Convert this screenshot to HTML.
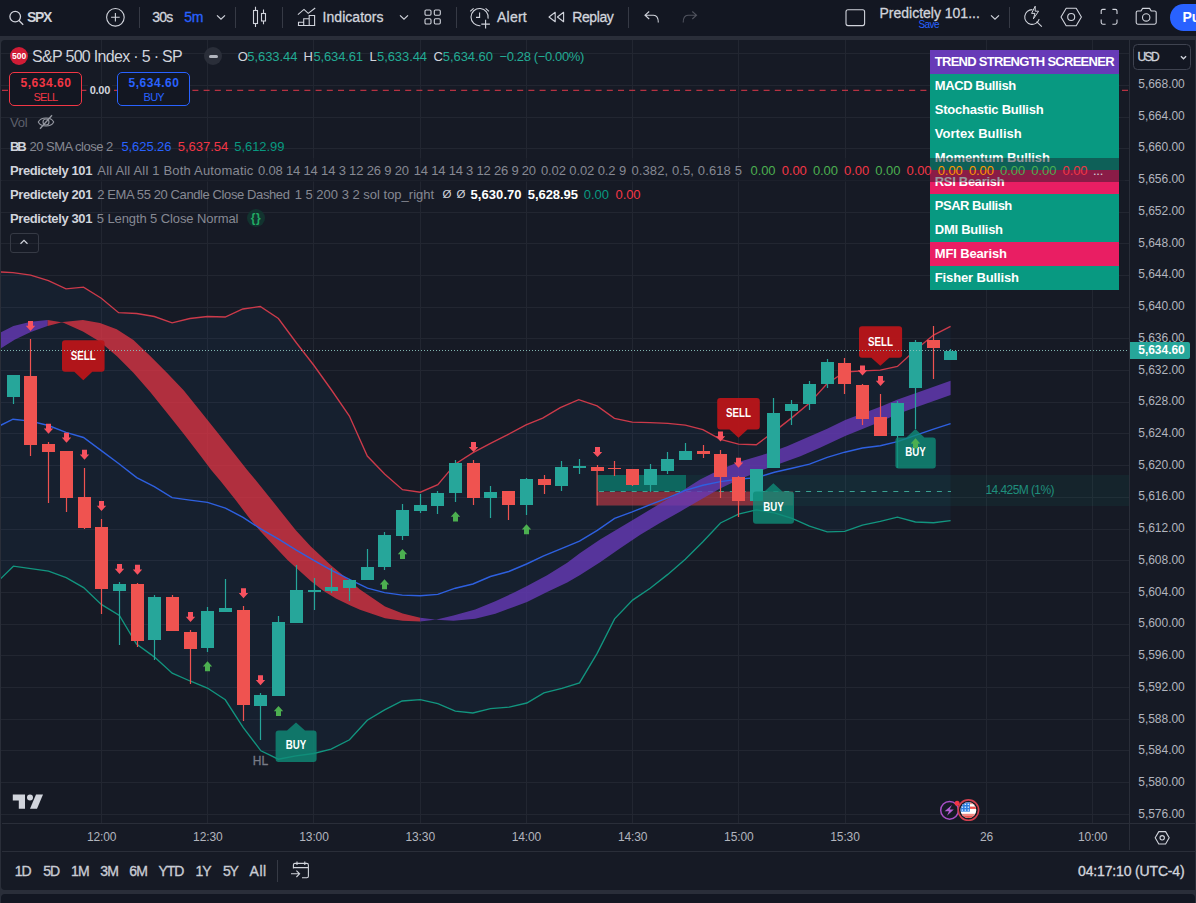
<!DOCTYPE html><html><head><meta charset="utf-8"><title>SPX chart</title><style>

html,body{margin:0;padding:0;}
body{width:1196px;height:903px;overflow:hidden;background:#131722;position:relative;font-family:"Liberation Sans",sans-serif;}
.t{position:absolute;white-space:nowrap;display:block;}
.abs{position:absolute;}

</style></head><body>
<div class="abs" style="left:0;top:35.5px;width:1196px;height:4.5px;background:#2a2e39"></div>
<div class="abs" style="left:0;top:36px;width:6px;height:856px;background:#2a2e39"></div>
<div class="abs" style="left:1.2px;top:40px;width:1196px;height:849.5px;background:#161a25;border-radius:4px 0 0 4px"></div>
<svg class="chart" width="1196" height="903" viewBox="0 0 1196 903" style="position:absolute;left:0;top:0">
<defs><clipPath id="cp"><rect x="1" y="40" width="1129" height="783"/></clipPath></defs>
<g clip-path="url(#cp)">
<rect x="101" y="40" width="1" height="783" fill="#222631"/>
<rect x="207" y="40" width="1" height="783" fill="#222631"/>
<rect x="313" y="40" width="1" height="783" fill="#222631"/>
<rect x="420" y="40" width="1" height="783" fill="#222631"/>
<rect x="526" y="40" width="1" height="783" fill="#222631"/>
<rect x="632" y="40" width="1" height="783" fill="#222631"/>
<rect x="738" y="40" width="1" height="783" fill="#222631"/>
<rect x="845" y="40" width="1" height="783" fill="#222631"/>
<rect x="986" y="40" width="1" height="783" fill="#222631"/>
<rect x="1092" y="40" width="1" height="783" fill="#222631"/>
<rect x="1" y="53" width="1129" height="1" fill="#222631"/>
<rect x="1" y="85" width="1129" height="1" fill="#222631"/>
<rect x="1" y="117" width="1129" height="1" fill="#222631"/>
<rect x="1" y="148" width="1129" height="1" fill="#222631"/>
<rect x="1" y="180" width="1129" height="1" fill="#222631"/>
<rect x="1" y="212" width="1129" height="1" fill="#222631"/>
<rect x="1" y="243" width="1129" height="1" fill="#222631"/>
<rect x="1" y="275" width="1129" height="1" fill="#222631"/>
<rect x="1" y="307" width="1129" height="1" fill="#222631"/>
<rect x="1" y="338" width="1129" height="1" fill="#222631"/>
<rect x="1" y="370" width="1129" height="1" fill="#222631"/>
<rect x="1" y="402" width="1129" height="1" fill="#222631"/>
<rect x="1" y="433" width="1129" height="1" fill="#222631"/>
<rect x="1" y="465" width="1129" height="1" fill="#222631"/>
<rect x="1" y="497" width="1129" height="1" fill="#222631"/>
<rect x="1" y="529" width="1129" height="1" fill="#222631"/>
<rect x="1" y="560" width="1129" height="1" fill="#222631"/>
<rect x="1" y="592" width="1129" height="1" fill="#222631"/>
<rect x="1" y="624" width="1129" height="1" fill="#222631"/>
<rect x="1" y="655" width="1129" height="1" fill="#222631"/>
<rect x="1" y="687" width="1129" height="1" fill="#222631"/>
<rect x="1" y="719" width="1129" height="1" fill="#222631"/>
<rect x="1" y="750" width="1129" height="1" fill="#222631"/>
<rect x="1" y="782" width="1129" height="1" fill="#222631"/>
<rect x="1" y="814" width="1129" height="1" fill="#222631"/>
<polygon points="0.0,271.9 13.0,272.6 30.6,275.1 48.4,280.6 66.0,288.9 83.5,287.2 101.3,298.2 118.6,312.7 136.7,313.5 154.3,316.5 172.1,322.8 189.9,318.5 207.4,316.5 225.2,317.0 242.8,309.0 260.3,306.5 278.4,318.5 296.5,343.0 313.6,365.0 331.5,390.0 349.4,416.0 367.3,456.0 384.6,474.0 402.5,489.7 420.3,492.2 437.8,484.7 455.4,463.9 473.0,452.6 490.5,443.3 506.8,435.2 526.0,424.8 542.7,418.1 560.3,407.6 578.7,399.7 597.1,405.9 614.4,418.4 632.2,422.1 650.2,422.6 667.8,423.4 685.3,425.1 702.9,429.7 720.5,439.4 738.5,444.2 756.3,444.7 774.4,431.4 792.0,417.6 809.5,403.1 827.0,383.8 844.7,372.0 862.5,370.9 880.3,370.2 897.4,366.4 915.4,350.1 933.5,335.1 950.6,326.3 950.6,520.7 933.5,522.7 915.4,522.0 897.4,517.2 880.3,521.4 862.4,525.1 844.7,531.4 827.2,531.9 809.5,526.2 792.0,518.3 774.4,512.9 756.3,509.9 738.5,514.2 720.5,523.0 702.9,541.8 685.3,559.3 667.8,574.4 650.2,588.2 632.6,600.1 614.6,618.9 597.0,653.6 579.5,682.9 561.9,688.4 543.9,692.9 526.8,703.0 509.2,707.2 490.4,708.7 472.9,713.0 455.3,711.2 437.8,703.7 420.2,699.7 402.1,701.0 384.6,709.8 367.3,720.2 349.5,739.8 331.1,749.2 313.7,753.5 296.0,755.9 278.3,759.2 260.9,750.8 243.1,727.4 225.3,699.8 207.4,688.0 190.0,681.0 172.2,673.2 154.5,657.1 136.5,644.0 119.4,615.4 101.3,604.4 83.6,587.6 66.2,577.6 48.5,571.2 30.8,568.6 13.4,566.2 0.0,579.3" fill="#2196f3" fill-opacity="0.055"/>
<rect x="597" y="475" width="533" height="31" fill="#089981" fill-opacity="0.085"/>
<rect x="597" y="475" width="89" height="16" fill="#089981" fill-opacity="0.55"/>
<rect x="597" y="491.5" width="196" height="14" fill="#f23645" fill-opacity="0.50"/>
<line x1="599" y1="491.5" x2="951" y2="491.5" stroke="#3dae9c" stroke-width="1" stroke-dasharray="5,5.9" stroke-opacity="0.9"/>
<rect x="596.5" y="470" width="1.2" height="35.5" fill="#ef5350"/>
<polygon points="0.0,332.8 13.4,326.1 30.8,321.7 47.5,320.1 47.7,320.1 47.7,326.0 47.5,326.1 30.8,332.1 15.0,339.5 0.0,349.0" fill="#673ab7" fill-opacity="0.8"/>
<polygon points="47.7,320.1 62.9,322.6 82.9,331.4 100.0,341.7 116.7,356.0 133.4,372.7 150.2,391.9 166.9,412.8 183.6,433.7 200.3,455.5 211.2,470.0 220.5,481.0 235.6,500.1 250.8,520.0 260.6,531.4 287.5,560.0 310.8,581.0 323.6,591.0 335.9,598.5 350.4,605.5 360.0,609.8 385.0,618.2 402.6,620.7 420.2,621.5 420.2,617.7 402.7,613.5 385.0,606.4 360.0,589.5 330.9,565.3 310.8,546.5 295.8,530.2 275.7,505.1 255.6,480.0 247.2,470.0 233.8,453.0 217.1,432.0 200.3,411.1 183.6,390.2 166.9,372.7 150.2,356.0 133.4,340.1 116.7,329.2 100.0,323.0 82.9,320.1 62.9,322.1 47.7,326.0" fill="#f23645" fill-opacity="0.7"/>
<polygon points="420.2,621.5 436.7,619.5 453.4,615.4 475.2,609.5 495.3,601.2 513.6,592.8 527.0,586.1 547.1,575.3 567.2,562.7 580.1,552.9 600.1,539.5 620.2,527.5 640.3,515.5 660.3,503.4 680.4,492.0 700.1,479.5 720.1,469.6 740.2,461.5 767.0,453.5 787.0,446.2 807.1,437.5 827.2,428.8 845.2,420.1 880.3,406.8 897.0,399.7 915.4,393.2 950.6,380.8 950.6,395.0 915.4,407.6 897.0,414.3 880.3,421.8 845.2,436.0 820.5,447.5 800.4,456.2 780.3,463.5 760.3,470.9 740.2,478.9 720.1,488.6 700.1,499.9 680.4,511.4 660.3,522.8 640.3,534.8 620.2,548.2 600.1,562.3 580.1,575.0 567.2,582.4 547.1,592.0 527.0,602.0 513.6,607.0 495.3,613.7 475.2,618.7 453.4,620.7 436.7,619.8 420.2,617.7" fill="#673ab7" fill-opacity="0.8"/>
<polyline points="0.0,271.9 13.0,272.6 30.6,275.1 48.4,280.6 66.0,288.9 83.5,287.2 101.3,298.2 118.6,312.7 136.7,313.5 154.3,316.5 172.1,322.8 189.9,318.5 207.4,316.5 225.2,317.0 242.8,309.0 260.3,306.5 278.4,318.5 296.5,343.0 313.6,365.0 331.5,390.0 349.4,416.0 367.3,456.0 384.6,474.0 402.5,489.7 420.3,492.2 437.8,484.7 455.4,463.9 473.0,452.6 490.5,443.3 506.8,435.2 526.0,424.8 542.7,418.1 560.3,407.6 578.7,399.7 597.1,405.9 614.4,418.4 632.2,422.1 650.2,422.6 667.8,423.4 685.3,425.1 702.9,429.7 720.5,439.4 738.5,444.2 756.3,444.7 774.4,431.4 792.0,417.6 809.5,403.1 827.0,383.8 844.7,372.0 862.5,370.9 880.3,370.2 897.4,366.4 915.4,350.1 933.5,335.1 950.6,326.3" fill="none" stroke="#cc3a4a" stroke-width="1.35"/>
<polyline points="0.0,579.3 13.4,566.2 30.8,568.6 48.5,571.2 66.2,577.6 83.6,587.6 101.3,604.4 119.4,615.4 136.5,644.0 154.5,657.1 172.2,673.2 190.0,681.0 207.4,688.0 225.3,699.8 243.1,727.4 260.9,750.8 278.3,759.2 296.0,755.9 313.7,753.5 331.1,749.2 349.5,739.8 367.3,720.2 384.6,709.8 402.1,701.0 420.2,699.7 437.8,703.7 455.3,711.2 472.9,713.0 490.4,708.7 509.2,707.2 526.8,703.0 543.9,692.9 561.9,688.4 579.5,682.9 597.0,653.6 614.6,618.9 632.6,600.1 650.2,588.2 667.8,574.4 685.3,559.3 702.9,541.8 720.5,523.0 738.5,514.2 756.3,509.9 774.4,512.9 792.0,518.3 809.5,526.2 827.2,531.9 844.7,531.4 862.4,525.1 880.3,521.4 897.4,517.2 915.4,522.0 933.5,522.7 950.6,520.7" fill="none" stroke="#12957f" stroke-width="1.35"/>
<polyline points="0.0,425.6 13.0,419.2 30.6,421.1 48.4,425.5 66.0,432.4 83.5,437.5 101.3,450.6 118.6,463.5 136.7,477.6 154.3,486.6 172.1,497.6 189.9,500.1 207.5,502.4 225.4,508.1 243.0,517.3 260.7,528.9 278.2,538.9 296.3,550.2 313.8,560.3 331.6,570.3 349.4,579.4 367.5,588.2 384.6,592.6 402.3,595.1 420.2,595.8 437.8,594.4 455.3,588.2 472.9,584.0 490.4,576.5 508.8,571.5 526.6,564.0 543.7,555.9 562.0,548.4 579.5,541.2 597.3,530.4 614.6,518.4 632.2,511.9 650.2,504.7 667.8,497.9 685.3,490.4 702.9,485.3 720.5,481.6 738.5,479.1 756.3,477.8 774.4,472.3 792.0,468.3 809.5,464.1 827.2,457.4 844.7,452.2 862.4,448.0 880.3,445.7 897.4,441.7 915.4,435.4 933.5,429.1 950.6,423.6" fill="none" stroke="#2e60e0" stroke-width="1.4"/>
<line x1="2" y1="90.3" x2="1130" y2="90.3" stroke="#e0394a" stroke-width="1" stroke-dasharray="6,5.2"/>
<rect x="12.9" y="375" width="1.2" height="29" fill="#26a69a"/>
<rect x="7.0" y="375" width="13" height="22" fill="#26a69a"/>
<rect x="29.9" y="339" width="1.2" height="117" fill="#ef5350"/>
<rect x="24.0" y="376" width="13" height="69" fill="#ef5350"/>
<rect x="47.9" y="442" width="1.2" height="61" fill="#ef5350"/>
<rect x="42.0" y="444" width="13" height="8" fill="#ef5350"/>
<rect x="65.9" y="451" width="1.2" height="61" fill="#ef5350"/>
<rect x="60.0" y="451" width="13" height="47" fill="#ef5350"/>
<rect x="83.9" y="468" width="1.2" height="61" fill="#ef5350"/>
<rect x="78.0" y="497" width="13" height="31" fill="#ef5350"/>
<rect x="100.9" y="519" width="1.2" height="95" fill="#ef5350"/>
<rect x="95.0" y="527" width="13" height="62" fill="#ef5350"/>
<rect x="118.9" y="582" width="1.2" height="63" fill="#26a69a"/>
<rect x="113.0" y="584" width="13" height="7" fill="#26a69a"/>
<rect x="136.9" y="583" width="1.2" height="64" fill="#ef5350"/>
<rect x="131.0" y="584" width="13" height="57" fill="#ef5350"/>
<rect x="153.9" y="595" width="1.2" height="65" fill="#26a69a"/>
<rect x="148.0" y="597" width="13" height="43" fill="#26a69a"/>
<rect x="171.9" y="595" width="1.2" height="36" fill="#ef5350"/>
<rect x="166.0" y="597" width="13" height="34" fill="#ef5350"/>
<rect x="189.9" y="630" width="1.2" height="54" fill="#ef5350"/>
<rect x="184.0" y="632" width="13" height="17" fill="#ef5350"/>
<rect x="206.9" y="607" width="1.2" height="45" fill="#26a69a"/>
<rect x="201.0" y="611" width="13" height="37" fill="#26a69a"/>
<rect x="224.9" y="579" width="1.2" height="33" fill="#26a69a"/>
<rect x="219.0" y="608" width="13" height="4" fill="#26a69a"/>
<rect x="242.9" y="606" width="1.2" height="115" fill="#ef5350"/>
<rect x="237.0" y="610" width="13" height="95" fill="#ef5350"/>
<rect x="259.9" y="693" width="1.2" height="47" fill="#26a69a"/>
<rect x="254.0" y="695" width="13" height="11" fill="#26a69a"/>
<rect x="277.9" y="616" width="1.2" height="80" fill="#26a69a"/>
<rect x="272.0" y="622" width="13" height="74" fill="#26a69a"/>
<rect x="295.9" y="565" width="1.2" height="58" fill="#26a69a"/>
<rect x="290.0" y="590" width="13" height="33" fill="#26a69a"/>
<rect x="313.9" y="578" width="1.2" height="32" fill="#26a69a"/>
<rect x="308.0" y="590" width="13" height="2" fill="#26a69a"/>
<rect x="330.9" y="568" width="1.2" height="25" fill="#26a69a"/>
<rect x="325.0" y="587" width="13" height="4" fill="#26a69a"/>
<rect x="348.9" y="579" width="1.2" height="22" fill="#26a69a"/>
<rect x="343.0" y="580" width="13" height="8" fill="#26a69a"/>
<rect x="366.9" y="549" width="1.2" height="31" fill="#26a69a"/>
<rect x="361.0" y="567" width="13" height="13" fill="#26a69a"/>
<rect x="383.9" y="532" width="1.2" height="38" fill="#26a69a"/>
<rect x="378.0" y="535" width="13" height="32" fill="#26a69a"/>
<rect x="401.9" y="504" width="1.2" height="36" fill="#26a69a"/>
<rect x="396.0" y="510" width="13" height="26" fill="#26a69a"/>
<rect x="419.9" y="494" width="1.2" height="19" fill="#26a69a"/>
<rect x="414.0" y="505" width="13" height="6" fill="#26a69a"/>
<rect x="436.9" y="491" width="1.2" height="23" fill="#26a69a"/>
<rect x="431.0" y="493" width="13" height="13" fill="#26a69a"/>
<rect x="454.9" y="460" width="1.2" height="42" fill="#26a69a"/>
<rect x="449.0" y="463" width="13" height="30" fill="#26a69a"/>
<rect x="472.9" y="460" width="1.2" height="45" fill="#ef5350"/>
<rect x="467.0" y="463" width="13" height="35" fill="#ef5350"/>
<rect x="489.9" y="486" width="1.2" height="32" fill="#26a69a"/>
<rect x="484.0" y="492" width="13" height="6" fill="#26a69a"/>
<rect x="507.9" y="491" width="1.2" height="29" fill="#ef5350"/>
<rect x="502.0" y="491" width="13" height="14" fill="#ef5350"/>
<rect x="525.9" y="478" width="1.2" height="37" fill="#26a69a"/>
<rect x="520.0" y="479" width="13" height="26" fill="#26a69a"/>
<rect x="543.9" y="475" width="1.2" height="19" fill="#ef5350"/>
<rect x="538.0" y="479" width="13" height="6" fill="#ef5350"/>
<rect x="560.9" y="461" width="1.2" height="30" fill="#26a69a"/>
<rect x="555.0" y="467" width="13" height="19" fill="#26a69a"/>
<rect x="578.9" y="459" width="1.2" height="15" fill="#26a69a"/>
<rect x="573.0" y="466" width="13" height="2" fill="#26a69a"/>
<rect x="596.9" y="465" width="1.2" height="6" fill="#ef5350"/>
<rect x="591.0" y="467" width="13" height="4" fill="#ef5350"/>
<rect x="613.9" y="461" width="1.2" height="15" fill="#ef5350"/>
<rect x="608.0" y="468" width="13" height="1" fill="#ef5350"/>
<rect x="631.9" y="469" width="1.2" height="17" fill="#ef5350"/>
<rect x="626.0" y="469" width="13" height="16" fill="#ef5350"/>
<rect x="649.9" y="464" width="1.2" height="28" fill="#26a69a"/>
<rect x="644.0" y="469" width="13" height="16" fill="#26a69a"/>
<rect x="666.9" y="452" width="1.2" height="22" fill="#26a69a"/>
<rect x="661.0" y="459" width="13" height="12" fill="#26a69a"/>
<rect x="684.9" y="443" width="1.2" height="17" fill="#26a69a"/>
<rect x="679.0" y="451" width="13" height="9" fill="#26a69a"/>
<rect x="702.9" y="445" width="1.2" height="13" fill="#ef5350"/>
<rect x="697.0" y="451" width="13" height="3" fill="#ef5350"/>
<rect x="719.9" y="450" width="1.2" height="48" fill="#ef5350"/>
<rect x="714.0" y="454" width="13" height="23" fill="#ef5350"/>
<rect x="737.9" y="476" width="1.2" height="41" fill="#ef5350"/>
<rect x="732.0" y="477" width="13" height="24" fill="#ef5350"/>
<rect x="755.9" y="469" width="1.2" height="32" fill="#26a69a"/>
<rect x="750.0" y="469" width="13" height="32" fill="#26a69a"/>
<rect x="772.9" y="398" width="1.2" height="70" fill="#26a69a"/>
<rect x="767.0" y="413" width="13" height="55" fill="#26a69a"/>
<rect x="790.9" y="400" width="1.2" height="25" fill="#26a69a"/>
<rect x="785.0" y="404" width="13" height="7" fill="#26a69a"/>
<rect x="808.9" y="381" width="1.2" height="29" fill="#26a69a"/>
<rect x="803.0" y="384" width="13" height="20" fill="#26a69a"/>
<rect x="826.9" y="359" width="1.2" height="29" fill="#26a69a"/>
<rect x="821.0" y="362" width="13" height="22" fill="#26a69a"/>
<rect x="843.9" y="358" width="1.2" height="36" fill="#ef5350"/>
<rect x="838.0" y="363" width="13" height="21" fill="#ef5350"/>
<rect x="861.9" y="384" width="1.2" height="41" fill="#ef5350"/>
<rect x="856.0" y="385" width="13" height="34" fill="#ef5350"/>
<rect x="879.9" y="394" width="1.2" height="42" fill="#ef5350"/>
<rect x="874.0" y="417" width="13" height="19" fill="#ef5350"/>
<rect x="896.9" y="401" width="1.2" height="67" fill="#26a69a"/>
<rect x="891.0" y="403" width="13" height="33" fill="#26a69a"/>
<rect x="914.9" y="340" width="1.2" height="89" fill="#26a69a"/>
<rect x="909.0" y="342" width="13" height="46" fill="#26a69a"/>
<rect x="932.9" y="326" width="1.2" height="53" fill="#ef5350"/>
<rect x="927.0" y="340" width="13" height="8" fill="#ef5350"/>
<rect x="949.9" y="349" width="1.2" height="11" fill="#26a69a"/>
<rect x="944.0" y="351" width="13" height="9" fill="#26a69a"/>
<path d="M28.0,321.0 h5 v4.8 h2.2 l-4.7,5.2 l-4.7,-5.2 h2.2 z" fill="#f7525f"/>
<path d="M46.0,423.7 h5 v4.8 h2.2 l-4.7,5.2 l-4.7,-5.2 h2.2 z" fill="#f7525f"/>
<path d="M64.0,432.7 h5 v4.8 h2.2 l-4.7,5.2 l-4.7,-5.2 h2.2 z" fill="#f7525f"/>
<path d="M82.0,449.8 h5 v4.8 h2.2 l-4.7,5.2 l-4.7,-5.2 h2.2 z" fill="#f7525f"/>
<path d="M99.0,500.9 h5 v4.8 h2.2 l-4.7,5.2 l-4.7,-5.2 h2.2 z" fill="#f7525f"/>
<path d="M117.0,564.0 h5 v4.8 h2.2 l-4.7,5.2 l-4.7,-5.2 h2.2 z" fill="#f7525f"/>
<path d="M135.0,564.8 h5 v4.8 h2.2 l-4.7,5.2 l-4.7,-5.2 h2.2 z" fill="#f7525f"/>
<path d="M188.0,612.0 h5 v4.8 h2.2 l-4.7,5.2 l-4.7,-5.2 h2.2 z" fill="#f7525f"/>
<path d="M241.0,588.2 h5 v4.8 h2.2 l-4.7,5.2 l-4.7,-5.2 h2.2 z" fill="#f7525f"/>
<path d="M258.0,675.3 h5 v4.8 h2.2 l-4.7,5.2 l-4.7,-5.2 h2.2 z" fill="#f7525f"/>
<path d="M471.0,442.1 h5 v4.8 h2.2 l-4.7,5.2 l-4.7,-5.2 h2.2 z" fill="#f7525f"/>
<path d="M595.0,447.1 h5 v4.8 h2.2 l-4.7,5.2 l-4.7,-5.2 h2.2 z" fill="#f7525f"/>
<path d="M718.0,431.5 h5 v4.8 h2.2 l-4.7,5.2 l-4.7,-5.2 h2.2 z" fill="#f7525f"/>
<path d="M736.0,457.8 h5 v4.8 h2.2 l-4.7,5.2 l-4.7,-5.2 h2.2 z" fill="#f7525f"/>
<path d="M860.0,365.5 h5 v4.8 h2.2 l-4.7,5.2 l-4.7,-5.2 h2.2 z" fill="#f7525f"/>
<path d="M878.0,376.0 h5 v4.8 h2.2 l-4.7,5.2 l-4.7,-5.2 h2.2 z" fill="#f7525f"/>
<path d="M207.5,661.3 l4.7,5.2 h-2.2 v4.8 h-5 v-4.8 h-2.2 z" fill="#4caf50"/>
<path d="M278.5,706.0 l4.7,5.2 h-2.2 v4.8 h-5 v-4.8 h-2.2 z" fill="#4caf50"/>
<path d="M384.5,579.2 l4.7,5.2 h-2.2 v4.8 h-5 v-4.8 h-2.2 z" fill="#4caf50"/>
<path d="M402.5,549.1 l4.7,5.2 h-2.2 v4.8 h-5 v-4.8 h-2.2 z" fill="#4caf50"/>
<path d="M455.5,511.5 l4.7,5.2 h-2.2 v4.8 h-5 v-4.8 h-2.2 z" fill="#4caf50"/>
<path d="M526.5,524.3 l4.7,5.2 h-2.2 v4.8 h-5 v-4.8 h-2.2 z" fill="#4caf50"/>
<path d="M915.5,438.6 l4.7,5.2 h-2.2 v4.8 h-5 v-4.8 h-2.2 z" fill="#4caf50"/>
<path d="M65.0,340.3 H101.6 Q104.6,340.3 104.6,343.3 V368.7 Q104.6,371.7 101.6,371.7 H92.3 L83.3,380.3 L74.3,371.7 H65.0 Q62.0,371.7 62.0,368.7 V343.3 Q62.0,340.3 65.0,340.3 Z" fill="#b91519" fill-opacity="0.95"/>
<text x="83.3" y="359.5" text-anchor="middle" font-family="Liberation Sans, sans-serif" font-size="12" font-weight="bold" fill="#ffffff" textLength="25" lengthAdjust="spacingAndGlyphs">SELL</text>
<path d="M720.2,398.1 H756.8 Q759.8,398.1 759.8,401.1 V426.4 Q759.8,429.4 756.8,429.4 H747.5 L738.5,437.7 L729.5,429.4 H720.2 Q717.2,429.4 717.2,426.4 V401.1 Q717.2,398.1 720.2,398.1 Z" fill="#b91519" fill-opacity="0.95"/>
<text x="738.5" y="417.2" text-anchor="middle" font-family="Liberation Sans, sans-serif" font-size="12" font-weight="bold" fill="#ffffff" textLength="25" lengthAdjust="spacingAndGlyphs">SELL</text>
<path d="M862.0,326.3 H899.1 Q902.1,326.3 902.1,329.3 V354.7 Q902.1,357.7 899.1,357.7 H889.3 L880.3,365.7 L871.3,357.7 H862.0 Q859.0,357.7 859.0,354.7 V329.3 Q859.0,326.3 862.0,326.3 Z" fill="#b91519" fill-opacity="0.95"/>
<text x="880.5" y="345.5" text-anchor="middle" font-family="Liberation Sans, sans-serif" font-size="12" font-weight="bold" fill="#ffffff" textLength="25" lengthAdjust="spacingAndGlyphs">SELL</text>
<path d="M278.6,730.6 H287.0 L296.0,722.5 L305.0,730.6 H313.6 Q316.6,730.6 316.6,733.6 V759.0 Q316.6,762.0 313.6,762.0 H278.6 Q275.6,762.0 275.6,759.0 V733.6 Q275.6,730.6 278.6,730.6 Z" fill="#0f8c78" fill-opacity="0.8"/>
<text x="296.1" y="749.4" text-anchor="middle" font-family="Liberation Sans, sans-serif" font-size="12" font-weight="bold" fill="#ffffff" textLength="20.5" lengthAdjust="spacingAndGlyphs">BUY</text>
<path d="M756.0,491.6 H764.4 L773.4,483.3 L782.4,491.6 H791.0 Q794.0,491.6 794.0,494.6 V520.7 Q794.0,523.7 791.0,523.7 H756.0 Q753.0,523.7 753.0,520.7 V494.6 Q753.0,491.6 756.0,491.6 Z" fill="#0f8c78" fill-opacity="0.8"/>
<text x="773.5" y="510.8" text-anchor="middle" font-family="Liberation Sans, sans-serif" font-size="12" font-weight="bold" fill="#ffffff" textLength="20.5" lengthAdjust="spacingAndGlyphs">BUY</text>
<path d="M898.4,437.4 H906.4 L915.4,429.1 L924.4,437.4 H932.8 Q935.8,437.4 935.8,440.4 V465.5 Q935.8,468.5 932.8,468.5 H898.4 Q895.4,468.5 895.4,465.5 V440.4 Q895.4,437.4 898.4,437.4 Z" fill="#0f8c78" fill-opacity="0.8"/>
<text x="915.6" y="456.1" text-anchor="middle" font-family="Liberation Sans, sans-serif" font-size="12" font-weight="bold" fill="#ffffff" textLength="20.5" lengthAdjust="spacingAndGlyphs">BUY</text>
<path d="M915.5,438.2 l4.7,5.2 h-2.2 v4.8 h-5 v-4.8 h-2.2 z" fill="#4caf50"/>
<text x="260.4" y="765.2" text-anchor="middle" font-family="Liberation Sans, sans-serif" font-size="12" fill="#787b86" stroke="#787b86" stroke-width="0.3">HL</text>
<text x="1020" y="494.3" text-anchor="middle" font-family="Liberation Sans, sans-serif" font-size="12" fill="#1f8f7c" textLength="69">14.425M (1%)</text>
<line x1="1" y1="350.5" x2="1128" y2="350.5" stroke="#8cc6c0" stroke-width="1" stroke-dasharray="1,2" stroke-opacity="0.9"/>
</g>
</svg>
<div class="abs" style="left:930px;top:49.8px;width:188.7px;height:24.2px;background:#673ab7"></div>
<span class="t" style="left:934.8px;top:53.0px;height:17px;line-height:17px;font-size:13px;color:#ffffff;font-weight:bold;letter-spacing:-0.727px;">TREND STRENGTH SCREENER</span>
<div class="abs" style="left:930px;top:73.7px;width:188.7px;height:24.3px;background:#089981"></div>
<span class="t" style="left:934.8px;top:76.9px;height:17px;line-height:17px;font-size:13px;color:#ffffff;font-weight:bold;letter-spacing:-0.412px;">MACD Bullish</span>
<div class="abs" style="left:930px;top:97.7px;width:188.7px;height:24.3px;background:#089981"></div>
<span class="t" style="left:934.8px;top:100.9px;height:17px;line-height:17px;font-size:13px;color:#ffffff;font-weight:bold;letter-spacing:-0.227px;">Stochastic Bullish</span>
<div class="abs" style="left:930px;top:121.7px;width:188.7px;height:24.3px;background:#089981"></div>
<span class="t" style="left:934.8px;top:124.9px;height:17px;line-height:17px;font-size:13px;color:#ffffff;font-weight:bold;letter-spacing:0.040px;">Vortex Bullish</span>
<div class="abs" style="left:930px;top:145.7px;width:188.7px;height:24.3px;background:#089981"></div>
<span class="t" style="left:934.8px;top:148.9px;height:17px;line-height:17px;font-size:13px;color:#ffffff;font-weight:bold;letter-spacing:-0.080px;">Momentum Bullish</span>
<div class="abs" style="left:930px;top:169.7px;width:188.7px;height:24.3px;background:#e91e63"></div>
<span class="t" style="left:934.8px;top:172.9px;height:17px;line-height:17px;font-size:13px;color:#ffffff;font-weight:bold;letter-spacing:-0.316px;">RSI Bearish</span>
<div class="abs" style="left:930px;top:193.7px;width:188.7px;height:24.3px;background:#089981"></div>
<span class="t" style="left:934.8px;top:196.9px;height:17px;line-height:17px;font-size:13px;color:#ffffff;font-weight:bold;letter-spacing:-0.505px;">PSAR Bullish</span>
<div class="abs" style="left:930px;top:217.7px;width:188.7px;height:24.3px;background:#089981"></div>
<span class="t" style="left:934.8px;top:220.9px;height:17px;line-height:17px;font-size:13px;color:#ffffff;font-weight:bold;letter-spacing:-0.253px;">DMI Bullish</span>
<div class="abs" style="left:930px;top:241.7px;width:188.7px;height:24.3px;background:#e91e63"></div>
<span class="t" style="left:934.8px;top:244.9px;height:17px;line-height:17px;font-size:13px;color:#ffffff;font-weight:bold;letter-spacing:-0.153px;">MFI Bearish</span>
<div class="abs" style="left:930px;top:265.7px;width:188.7px;height:24.3px;background:#089981"></div>
<span class="t" style="left:934.8px;top:268.9px;height:17px;line-height:17px;font-size:13px;color:#ffffff;font-weight:bold;letter-spacing:-0.140px;">Fisher Bullish</span>
<div class="abs" style="left:2px;top:158.4px;width:1123px;height:23.6px;background:rgba(22,26,37,0.45)"></div>
<div class="abs" style="left:10px;top:46.6px;width:18px;height:18px;border-radius:9px;background:#d01c36"></div>
<span class="t" style="left:12.1px;top:50.6px;height:11px;line-height:11px;font-size:8.5px;color:#ffffff;font-weight:bold;letter-spacing:-0.060px;">500</span>
<span class="t" style="left:32.0px;top:46.2px;height:21px;line-height:21px;font-size:16px;color:#d1d4dc;letter-spacing:-0.688px;">S&amp;P 500 Index · 5 · SP</span>
<div class="abs" style="left:204.4px;top:47.4px;width:18px;height:18px;border-radius:9px;background:#2a2e39"></div>
<div class="abs" style="left:209px;top:55px;width:9px;height:3px;border-radius:1.5px;background:#b2b5be"></div>
<span class="t" style="left:237.8px;top:47.9px;height:17px;line-height:17px;font-size:13px;color:#d1d4dc;">O</span>
<span class="t" style="left:247.3px;top:47.9px;height:17px;line-height:17px;font-size:13px;color:#22ab94;letter-spacing:-0.075px;">5,633.44</span>
<span class="t" style="left:303.6px;top:47.9px;height:17px;line-height:17px;font-size:13px;color:#d1d4dc;">H</span>
<span class="t" style="left:313.4px;top:47.9px;height:17px;line-height:17px;font-size:13px;color:#22ab94;letter-spacing:-0.138px;">5,634.61</span>
<span class="t" style="left:369.4px;top:47.9px;height:17px;line-height:17px;font-size:13px;color:#d1d4dc;">L</span>
<span class="t" style="left:377.0px;top:47.9px;height:17px;line-height:17px;font-size:13px;color:#22ab94;letter-spacing:-0.075px;">5,633.44</span>
<span class="t" style="left:433.4px;top:47.9px;height:17px;line-height:17px;font-size:13px;color:#d1d4dc;">C</span>
<span class="t" style="left:442.8px;top:47.9px;height:17px;line-height:17px;font-size:13px;color:#22ab94;letter-spacing:-0.075px;">5,634.60</span>
<span class="t" style="left:499.5px;top:47.9px;height:17px;line-height:17px;font-size:13px;color:#22ab94;letter-spacing:-0.366px;">−0.28 (−0.00%)</span>
<div class="abs" style="left:9.3px;top:72.2px;width:70.7px;height:31.6px;border:1px solid #f23645;border-radius:5px;background:#131722"></div>
<span class="t" style="left:20.5px;top:74.7px;height:16px;line-height:16px;font-size:12px;color:#f23645;font-weight:bold;letter-spacing:0.536px;">5,634.60</span>
<span class="t" style="left:33.5px;top:90.1px;height:14px;line-height:14px;font-size:11px;color:#f23645;letter-spacing:-0.727px;">SELL</span>
<div class="abs" style="left:116.9px;top:72.2px;width:71px;height:31.6px;border:1px solid #2962ff;border-radius:5px;background:#131722"></div>
<span class="t" style="left:128.5px;top:74.7px;height:16px;line-height:16px;font-size:12px;color:#2962ff;font-weight:bold;letter-spacing:0.536px;">5,634.60</span>
<span class="t" style="left:143.5px;top:90.1px;height:14px;line-height:14px;font-size:11px;color:#2962ff;letter-spacing:-0.706px;">BUY</span>
<div class="abs" style="left:87.5px;top:84px;width:24.5px;height:12px;background:#161a25"></div>
<span class="t" style="left:89.8px;top:82.8px;height:14px;line-height:14px;font-size:11px;color:#d1d4dc;font-weight:bold;letter-spacing:-0.302px;">0.00</span>
<span class="t" style="left:10.0px;top:113.8px;height:17px;line-height:17px;font-size:13px;color:#5d606b;letter-spacing:-0.190px;">Vol</span>
<svg class="abs" style="left:37px;top:113px;" width="18" height="18" viewBox="0 0 18 18" fill="none"><path d="M1.3 9 C4 3.6 14 3.6 16.7 9 C14 14.4 4 14.4 1.3 9 Z" stroke="#9598a1" stroke-width="1.1"/><circle cx="9" cy="9" r="3" stroke="#9598a1" stroke-width="1.1"/><path d="M3 15.8 L15 2.2" stroke="#9598a1" stroke-width="1.3"/></svg>
<span class="t" style="left:10.0px;top:138.1px;height:17px;line-height:17px;font-size:13px;color:#d1d4dc;font-weight:bold;letter-spacing:-2.087px;">BB</span>
<span class="t" style="left:29.4px;top:138.1px;height:17px;line-height:17px;font-size:13px;color:#868993;letter-spacing:-0.495px;">20 SMA close 2</span>
<span class="t" style="left:121.4px;top:138.1px;height:17px;line-height:17px;font-size:13px;color:#2962ff;letter-spacing:-0.075px;">5,625.26</span>
<span class="t" style="left:177.8px;top:138.1px;height:17px;line-height:17px;font-size:13px;color:#f23645;letter-spacing:-0.013px;">5,637.54</span>
<span class="t" style="left:234.3px;top:138.1px;height:17px;line-height:17px;font-size:13px;color:#089981;letter-spacing:-0.075px;">5,612.99</span>
<span class="t" style="left:10.0px;top:161.9px;height:17px;line-height:17px;font-size:13px;color:#d1d4dc;font-weight:bold;letter-spacing:-0.389px;">Predictely 101</span>
<span class="t" style="left:97.3px;top:161.9px;height:17px;line-height:17px;font-size:13px;color:#868993;letter-spacing:0.185px;">All All All 1 Both Automatic</span>
<span class="t" style="left:258.0px;top:161.9px;height:17px;line-height:17px;font-size:13px;color:#868993;letter-spacing:-0.178px;">0.08 14 14 14 3 12 26 9 20</span>
<span class="t" style="left:413.8px;top:161.9px;height:17px;line-height:17px;font-size:13px;color:#868993;letter-spacing:-0.210px;">14 14 14 3 12 26 9 20</span>
<span class="t" style="left:540.9px;top:161.9px;height:17px;line-height:17px;font-size:13px;color:#868993;letter-spacing:-0.103px;">0.02 0.02 0.2 9</span>
<span class="t" style="left:631.4px;top:161.9px;height:17px;line-height:17px;font-size:13px;color:#868993;letter-spacing:0.114px;">0.382, 0.5, 0.618 5</span>
<span class="t" style="left:750.5px;top:161.9px;height:17px;line-height:17px;font-size:13px;color:#4caf50;letter-spacing:-0.075px;">0.00</span>
<span class="t" style="left:781.7px;top:161.9px;height:17px;line-height:17px;font-size:13px;color:#f23645;letter-spacing:-0.075px;">0.00</span>
<span class="t" style="left:812.9px;top:161.9px;height:17px;line-height:17px;font-size:13px;color:#4caf50;letter-spacing:-0.075px;">0.00</span>
<span class="t" style="left:844.1px;top:161.9px;height:17px;line-height:17px;font-size:13px;color:#f23645;letter-spacing:-0.075px;">0.00</span>
<span class="t" style="left:875.3px;top:161.9px;height:17px;line-height:17px;font-size:13px;color:#4caf50;letter-spacing:-0.075px;">0.00</span>
<span class="t" style="left:906.5px;top:161.9px;height:17px;line-height:17px;font-size:13px;color:#f23645;letter-spacing:-0.075px;">0.00</span>
<span class="t" style="left:937.7px;top:161.9px;height:17px;line-height:17px;font-size:13px;color:#ff9800;letter-spacing:-0.075px;">0.00</span>
<span class="t" style="left:968.9px;top:161.9px;height:17px;line-height:17px;font-size:13px;color:#ff9800;letter-spacing:-0.075px;">0.00</span>
<span class="t" style="left:1000.1px;top:161.9px;height:17px;line-height:17px;font-size:13px;color:#4caf50;letter-spacing:-0.075px;">0.00</span>
<span class="t" style="left:1031.3px;top:161.9px;height:17px;line-height:17px;font-size:13px;color:#4caf50;letter-spacing:-0.075px;">0.00</span>
<span class="t" style="left:1062.5px;top:161.9px;height:17px;line-height:17px;font-size:13px;color:#f23645;letter-spacing:-0.075px;">0.00</span>
<span class="t" style="left:1093.0px;top:161.9px;height:17px;line-height:17px;font-size:13px;color:#d1d4dc;letter-spacing:-0.279px;">...</span>
<span class="t" style="left:10.0px;top:185.8px;height:17px;line-height:17px;font-size:13px;color:#d1d4dc;font-weight:bold;letter-spacing:-0.389px;">Predictely 201</span>
<span class="t" style="left:97.3px;top:185.8px;height:17px;line-height:17px;font-size:13px;color:#868993;letter-spacing:-0.397px;">2 EMA 55 20 Candle Close Dashed</span>
<span class="t" style="left:294.7px;top:185.8px;height:17px;line-height:17px;font-size:13px;color:#868993;letter-spacing:-0.004px;">1 5 200 3 2 sol top_right</span>
<span class="t" style="left:442.6px;top:187.1px;height:15px;line-height:15px;font-size:11.5px;color:#d1d4dc;">Ø</span>
<span class="t" style="left:456.6px;top:187.1px;height:15px;line-height:15px;font-size:11.5px;color:#d1d4dc;">Ø</span>
<span class="t" style="left:470.6px;top:185.8px;height:17px;line-height:17px;font-size:13px;color:#ffffff;font-weight:bold;letter-spacing:0.050px;">5,630.70</span>
<span class="t" style="left:527.8px;top:185.8px;height:17px;line-height:17px;font-size:13px;color:#ffffff;font-weight:bold;letter-spacing:-0.075px;">5,628.95</span>
<span class="t" style="left:583.7px;top:185.8px;height:17px;line-height:17px;font-size:13px;color:#089981;letter-spacing:0.025px;">0.00</span>
<span class="t" style="left:615.5px;top:185.8px;height:17px;line-height:17px;font-size:13px;color:#f23645;letter-spacing:-0.075px;">0.00</span>
<span class="t" style="left:10.0px;top:209.6px;height:17px;line-height:17px;font-size:13px;color:#d1d4dc;font-weight:bold;letter-spacing:-0.389px;">Predictely 301</span>
<span class="t" style="left:96.8px;top:209.6px;height:17px;line-height:17px;font-size:13px;color:#868993;letter-spacing:-0.100px;">5 Length 5 Close Normal</span>
<div class="abs" style="left:247.2px;top:209.2px;width:17.6px;height:17.6px;border-radius:9px;background:#12332f"></div>
<span class="t" style="left:250.8px;top:209.6px;height:16px;line-height:16px;font-size:12px;color:#22ab64;font-weight:bold;letter-spacing:0.530px;">{}</span>
<div class="abs" style="left:10px;top:232.6px;width:27px;height:18.5px;border:1px solid #363a45;border-radius:3px"></div>
<svg class="abs" style="left:18px;top:237px;" width="12" height="10" viewBox="0 0 12 10" fill="none"><path d="M2.5 6.8 L6 3.4 L9.5 6.8" stroke="#d1d4dc" stroke-width="1.2"/></svg>
<svg class="abs" style="left:8px;top:9px;" width="18" height="18" viewBox="0 0 18 18" fill="none"><circle cx="7.2" cy="7.6" r="5.3" stroke="#d1d4dc" stroke-width="1.3"/><path d="M11 11.5 L15.2 15.8" stroke="#d1d4dc" stroke-width="1.3"/></svg>
<span class="t" style="left:27.0px;top:8.3px;height:18px;line-height:18px;font-size:14px;color:#d1d4dc;font-weight:bold;letter-spacing:-1.337px;">SPX</span>
<svg class="abs" style="left:105px;top:7px;" width="21" height="21" viewBox="0 0 21 21" fill="none"><circle cx="10.4" cy="10.3" r="8.8" stroke="#d1d4dc" stroke-width="1.1"/><path d="M10.4 6 V14.6 M6.1 10.3 H14.7" stroke="#d1d4dc" stroke-width="1.1"/></svg>
<div class="abs" style="left:139.0px;top:6.5px;width:1px;height:21px;background:#363a45"></div>
<div class="abs" style="left:234.8px;top:6.5px;width:1px;height:21px;background:#363a45"></div>
<div class="abs" style="left:282.2px;top:6.5px;width:1px;height:21px;background:#363a45"></div>
<div class="abs" style="left:455.8px;top:6.5px;width:1px;height:21px;background:#363a45"></div>
<div class="abs" style="left:627.9px;top:6.5px;width:1px;height:21px;background:#363a45"></div>
<div class="abs" style="left:1009.1px;top:6.5px;width:1px;height:21px;background:#363a45"></div>
<span class="t" style="left:152.2px;top:8.2px;height:18px;line-height:18px;font-size:14px;color:#d1d4dc;letter-spacing:-0.791px;-webkit-text-stroke:0.3px #d1d4dc;">30s</span>
<span class="t" style="left:184.3px;top:8.2px;height:18px;line-height:18px;font-size:14px;color:#2962ff;letter-spacing:-0.424px;-webkit-text-stroke:0.3px #2962ff;">5m</span>
<svg class="abs" style="left:216px;top:14px;" width="10" height="7" viewBox="0 0 10 7" fill="none"><path d="M1 1.4 L5 5.2 L9 1.4" stroke="#d1d4dc" stroke-width="1.2"/></svg>
<svg class="abs" style="left:251px;top:6px;" width="17" height="22" viewBox="0 0 17 22" fill="none"><path d="M4.5 0.7 V4.5 M4.5 17.5 V21 M12.5 3.6 V7.5 M12.5 15 V18.2" stroke="#d1d4dc" stroke-width="1.1"/><rect x="2.5" y="4.5" width="4" height="13" stroke="#d1d4dc" stroke-width="1.1"/><rect x="10.5" y="7.5" width="4" height="7.5" stroke="#d1d4dc" stroke-width="1.1"/></svg>
<svg class="abs" style="left:296px;top:6px;" width="21" height="21" viewBox="0 0 21 21" fill="none"><path d="M1.9 8.6 L8 3.4 L12.2 7.4 L19.2 2" stroke="#d1d4dc" stroke-width="1.1"/><path d="M2.5 19.5 V16.2 H7.7 V19.5 M7.7 16.2 V12.8 H13.2 V19.5 M13.2 12.8 V9.5 H18.6 V19.5 M1.9 19.5 H19.2" stroke="#d1d4dc" stroke-width="1.1"/></svg>
<span class="t" style="left:322.6px;top:8.2px;height:18px;line-height:18px;font-size:14px;color:#d1d4dc;letter-spacing:0.030px;-webkit-text-stroke:0.3px #d1d4dc;">Indicators</span>
<svg class="abs" style="left:399px;top:14px;" width="10" height="7" viewBox="0 0 10 7" fill="none"><path d="M1 1.4 L5 5.2 L9 1.4" stroke="#d1d4dc" stroke-width="1.2"/></svg>
<svg class="abs" style="left:424px;top:9px;" width="18" height="17" viewBox="0 0 18 17" fill="none"><rect x="1" y="1" width="6" height="5.2" rx="1.2" stroke="#d1d4dc" stroke-width="1.1"/><rect x="1" y="9.8" width="6" height="5.2" rx="1.2" stroke="#d1d4dc" stroke-width="1.1"/><rect x="10.3" y="1" width="6" height="5.2" rx="1.2" stroke="#d1d4dc" stroke-width="1.1"/><rect x="10.3" y="9.8" width="6" height="5.2" rx="1.2" stroke="#d1d4dc" stroke-width="1.1"/></svg>
<svg class="abs" style="left:469px;top:6px;" width="23" height="24" viewBox="0 0 23 24" fill="none"><path d="M19.07 12.6 A8.6 8.6 0 1 0 11.35 19.67" stroke="#d1d4dc" stroke-width="1.1"/><path d="M10.6 6.4 V11.4 H7" stroke="#d1d4dc" stroke-width="1.1"/><path d="M1.2 5.4 L4.6 2.3 M16.6 2.3 L20 5.4" stroke="#d1d4dc" stroke-width="1.1"/><path d="M16.6 13.8 V22.4 M12.3 18.1 H20.9" stroke="#d1d4dc" stroke-width="1.1"/></svg>
<span class="t" style="left:497.0px;top:8.2px;height:18px;line-height:18px;font-size:14px;color:#d1d4dc;letter-spacing:0.243px;-webkit-text-stroke:0.3px #d1d4dc;">Alert</span>
<svg class="abs" style="left:548px;top:11px;" width="18" height="12" viewBox="0 0 18 12" fill="none"><path d="M7.2 1.3 V10.7 L1 6 Z M15.6 1.3 V10.7 L9.4 6 Z" stroke="#d1d4dc" stroke-width="1.1" stroke-linejoin="round"/></svg>
<span class="t" style="left:572.2px;top:8.2px;height:18px;line-height:18px;font-size:14px;color:#d1d4dc;letter-spacing:-0.397px;-webkit-text-stroke:0.3px #d1d4dc;">Replay</span>
<svg class="abs" style="left:643px;top:10px;" width="18" height="14" viewBox="0 0 18 14" fill="none"><path d="M6.2 1.5 L2 5.2 L6.2 9 M2 5.2 H10.5 Q15.3 5.4 15.3 12.4" stroke="#d1d4dc" stroke-width="1.1"/></svg>
<svg class="abs" style="left:681px;top:10px;" width="18" height="14" viewBox="0 0 18 14" fill="none"><path d="M11.3 1.5 L15.5 5.2 L11.3 9 M15.5 5.2 H7 Q2.2 5.4 2.2 12.4" stroke="#50535e" stroke-width="1.1"/></svg>
<svg class="abs" style="left:845px;top:9px;" width="21" height="18" viewBox="0 0 21 18" fill="none"><rect x="1" y="0.8" width="18.6" height="15.8" rx="2" stroke="#d1d4dc" stroke-width="1.1"/></svg>
<span class="t" style="left:879.5px;top:3.6px;height:18px;line-height:18px;font-size:14px;color:#d1d4dc;letter-spacing:-0.005px;-webkit-text-stroke:0.3px #d1d4dc;">Predictely 101...</span>
<span class="t" style="left:918.5px;top:18.3px;height:13px;line-height:13px;font-size:10px;color:#2962ff;letter-spacing:-0.573px;">Save</span>
<svg class="abs" style="left:990px;top:14px;" width="10" height="7" viewBox="0 0 10 7" fill="none"><path d="M1 1.4 L5 5.2 L9 1.4" stroke="#d1d4dc" stroke-width="1.2"/></svg>
<svg class="abs" style="left:1023px;top:5px;" width="21" height="23" viewBox="0 0 21 23" fill="none"><path d="M9.4 4.6 A7.4 7.4 0 1 0 16.2 14.2" stroke="#d1d4dc" stroke-width="1.1"/><path d="M13.6 16.6 L18.8 21.6" stroke="#d1d4dc" stroke-width="1.1"/><path d="M12.2 1.2 L8.6 8.4 H12 L10.4 13.8 L15.6 6.2 H12.2 Z" stroke="#d1d4dc" stroke-width="1" stroke-linejoin="round"/></svg>
<svg class="abs" style="left:1060px;top:7px;" width="23" height="20" viewBox="0 0 23 20" fill="none"><path d="M6.2 1.2 H16.2 L21.4 10 L16.2 18.8 H6.2 L1 10 Z" stroke="#d1d4dc" stroke-width="1.1" stroke-linejoin="round"/><circle cx="11.2" cy="10" r="3.5" stroke="#d1d4dc" stroke-width="1.1"/></svg>
<svg class="abs" style="left:1100px;top:8px;" width="19" height="18" viewBox="0 0 19 18" fill="none"><path d="M1.2 6 V3 Q1.2 1.4 2.8 1.4 H5.6 M12.4 1.4 H15.4 Q17 1.4 17 3 V6 M17 11.4 V14.6 Q17 16.2 15.4 16.2 H12.4 M5.6 16.2 H2.8 Q1.2 16.2 1.2 14.6 V11.4" stroke="#d1d4dc" stroke-width="1.1"/></svg>
<svg class="abs" style="left:1135px;top:7px;" width="23" height="19" viewBox="0 0 23 19" fill="none"><path d="M1.2 5.6 Q1.2 4 2.8 4 H6 L7.6 1.4 H14.6 L16.2 4 H19.6 Q21.2 4 21.2 5.6 V15.6 Q21.2 17.2 19.6 17.2 H2.8 Q1.2 17.2 1.2 15.6 Z" stroke="#d1d4dc" stroke-width="1.1" stroke-linejoin="round"/><circle cx="11.2" cy="10.4" r="3.7" stroke="#d1d4dc" stroke-width="1.1"/></svg>
<div class="abs" style="left:1170px;top:3.5px;width:60px;height:27.5px;border-radius:14px;background:#2962ff"></div>
<span class="t" style="left:1182.4px;top:8.3px;height:18px;line-height:18px;font-size:14px;color:#ffffff;font-weight:bold;">Pu</span>
<div class="abs" style="left:1130px;top:40px;width:66px;height:783px;background:#161a25"></div>
<div class="abs" style="left:1129px;top:40px;width:1px;height:810px;background:#2a2e39"></div>
<span class="t" style="left:1138.3px;top:75.9px;height:16px;line-height:16px;font-size:12px;color:#b2b5be;letter-spacing:-0.039px;">5,668.00</span>
<span class="t" style="left:1138.3px;top:107.6px;height:16px;line-height:16px;font-size:12px;color:#b2b5be;letter-spacing:-0.039px;">5,664.00</span>
<span class="t" style="left:1138.3px;top:139.4px;height:16px;line-height:16px;font-size:12px;color:#b2b5be;letter-spacing:-0.039px;">5,660.00</span>
<span class="t" style="left:1138.3px;top:171.1px;height:16px;line-height:16px;font-size:12px;color:#b2b5be;letter-spacing:-0.039px;">5,656.00</span>
<span class="t" style="left:1138.3px;top:202.8px;height:16px;line-height:16px;font-size:12px;color:#b2b5be;letter-spacing:-0.039px;">5,652.00</span>
<span class="t" style="left:1138.3px;top:234.6px;height:16px;line-height:16px;font-size:12px;color:#b2b5be;letter-spacing:-0.039px;">5,648.00</span>
<span class="t" style="left:1138.3px;top:266.3px;height:16px;line-height:16px;font-size:12px;color:#b2b5be;letter-spacing:-0.039px;">5,644.00</span>
<span class="t" style="left:1138.3px;top:298.0px;height:16px;line-height:16px;font-size:12px;color:#b2b5be;letter-spacing:-0.039px;">5,640.00</span>
<span class="t" style="left:1138.3px;top:329.7px;height:16px;line-height:16px;font-size:12px;color:#b2b5be;letter-spacing:-0.039px;">5,636.00</span>
<span class="t" style="left:1138.3px;top:361.5px;height:16px;line-height:16px;font-size:12px;color:#b2b5be;letter-spacing:-0.039px;">5,632.00</span>
<span class="t" style="left:1138.3px;top:393.2px;height:16px;line-height:16px;font-size:12px;color:#b2b5be;letter-spacing:-0.039px;">5,628.00</span>
<span class="t" style="left:1138.3px;top:424.9px;height:16px;line-height:16px;font-size:12px;color:#b2b5be;letter-spacing:-0.039px;">5,624.00</span>
<span class="t" style="left:1138.3px;top:456.7px;height:16px;line-height:16px;font-size:12px;color:#b2b5be;letter-spacing:-0.039px;">5,620.00</span>
<span class="t" style="left:1138.3px;top:488.4px;height:16px;line-height:16px;font-size:12px;color:#b2b5be;letter-spacing:-0.039px;">5,616.00</span>
<span class="t" style="left:1138.3px;top:520.1px;height:16px;line-height:16px;font-size:12px;color:#b2b5be;letter-spacing:-0.039px;">5,612.00</span>
<span class="t" style="left:1138.3px;top:551.9px;height:16px;line-height:16px;font-size:12px;color:#b2b5be;letter-spacing:-0.039px;">5,608.00</span>
<span class="t" style="left:1138.3px;top:583.6px;height:16px;line-height:16px;font-size:12px;color:#b2b5be;letter-spacing:-0.039px;">5,604.00</span>
<span class="t" style="left:1138.3px;top:615.3px;height:16px;line-height:16px;font-size:12px;color:#b2b5be;letter-spacing:-0.039px;">5,600.00</span>
<span class="t" style="left:1138.3px;top:647.0px;height:16px;line-height:16px;font-size:12px;color:#b2b5be;letter-spacing:-0.039px;">5,596.00</span>
<span class="t" style="left:1138.3px;top:678.8px;height:16px;line-height:16px;font-size:12px;color:#b2b5be;letter-spacing:-0.039px;">5,592.00</span>
<span class="t" style="left:1138.3px;top:710.5px;height:16px;line-height:16px;font-size:12px;color:#b2b5be;letter-spacing:-0.039px;">5,588.00</span>
<span class="t" style="left:1138.3px;top:742.2px;height:16px;line-height:16px;font-size:12px;color:#b2b5be;letter-spacing:-0.039px;">5,584.00</span>
<span class="t" style="left:1138.3px;top:774.0px;height:16px;line-height:16px;font-size:12px;color:#b2b5be;letter-spacing:-0.039px;">5,580.00</span>
<span class="t" style="left:1138.3px;top:805.7px;height:16px;line-height:16px;font-size:12px;color:#b2b5be;letter-spacing:-0.039px;">5,576.00</span>
<div class="abs" style="left:1133px;top:44px;width:56px;height:24px;border:1px solid #3f4350;border-radius:4.5px;background:#131722"></div>
<span class="t" style="left:1137.4px;top:48.6px;height:16px;line-height:16px;font-size:12px;color:#d1d4dc;letter-spacing:-1.579px;-webkit-text-stroke:0.3px #d1d4dc;">USD</span>
<svg class="abs" style="left:1180px;top:55px;" width="8" height="6" viewBox="0 0 8 6" fill="none"><path d="M0.9 1.2 L3.5 3.8 L6.1 1.2" stroke="#d1d4dc" stroke-width="1.3"/></svg>
<div class="abs" style="left:1130px;top:342px;width:60px;height:17px;background:#26a69a;border-radius:0 2px 2px 0"></div>
<span class="t" style="left:1138.3px;top:342.2px;height:16px;line-height:16px;font-size:12px;color:#ffffff;font-weight:bold;letter-spacing:-0.039px;">5,634.60</span>
<div class="abs" style="left:2px;top:823px;width:1194px;height:1px;background:#2a2e39"></div>
<span class="t" style="left:86.9px;top:828.9px;height:16px;line-height:16px;font-size:12px;color:#b2b5be;letter-spacing:-0.120px;">12:00</span>
<span class="t" style="left:193.1px;top:828.9px;height:16px;line-height:16px;font-size:12px;color:#b2b5be;letter-spacing:-0.120px;">12:30</span>
<span class="t" style="left:299.3px;top:828.9px;height:16px;line-height:16px;font-size:12px;color:#b2b5be;letter-spacing:-0.120px;">13:00</span>
<span class="t" style="left:405.5px;top:828.9px;height:16px;line-height:16px;font-size:12px;color:#b2b5be;letter-spacing:-0.120px;">13:30</span>
<span class="t" style="left:511.7px;top:828.9px;height:16px;line-height:16px;font-size:12px;color:#b2b5be;letter-spacing:-0.120px;">14:00</span>
<span class="t" style="left:617.9px;top:828.9px;height:16px;line-height:16px;font-size:12px;color:#b2b5be;letter-spacing:-0.120px;">14:30</span>
<span class="t" style="left:724.1px;top:828.9px;height:16px;line-height:16px;font-size:12px;color:#b2b5be;letter-spacing:-0.120px;">15:00</span>
<span class="t" style="left:830.3px;top:828.9px;height:16px;line-height:16px;font-size:12px;color:#b2b5be;letter-spacing:-0.120px;">15:30</span>
<span class="t" style="left:979.9px;top:828.9px;height:16px;line-height:16px;font-size:12px;color:#b2b5be;letter-spacing:0.000px;">26</span>
<span class="t" style="left:1077.9px;top:828.9px;height:16px;line-height:16px;font-size:12px;color:#b2b5be;letter-spacing:-0.120px;">10:00</span>
<svg class="abs" style="left:1153.6px;top:829.6px;" width="17" height="16" viewBox="0 0 17 16" fill="none"><path d="M4.8 1.6 H11.6 L15.2 7.8 L11.6 14 H4.8 L1.2 7.8 Z" stroke="#d1d4dc" stroke-width="1.1" stroke-linejoin="round"/><circle cx="8.2" cy="7.8" r="2.2" stroke="#d1d4dc" stroke-width="1.1"/></svg>
<svg class="abs" style="left:12px;top:794px;" width="32" height="16" viewBox="0 0 32 16" fill="none"><path d="M0.8 0.6 H13 V14.8 H6.8 V6.4 H0.8 Z" fill="#d1d4dc"/><circle cx="18" cy="3.6" r="3" fill="#d1d4dc"/><path d="M24 0.6 H31 L25 14.8 H18 Z" fill="#d1d4dc"/></svg>
<svg class="abs" style="left:938px;top:798px" width="44" height="26" viewBox="0 0 44 26" fill="none"><defs><clipPath id="fl"><circle cx="30.4" cy="12.1" r="7.9"/></clipPath></defs><circle cx="11.6" cy="12.3" r="8.9" stroke="#a84fc6" stroke-width="1.5" fill="#161a25"/><path d="M14 7 L6.6 13.2 H11 L9 17.8 L15.8 11.4 H11.6 Z" fill="#b55fd6"/><circle cx="30.4" cy="12.1" r="10.4" fill="#161a25"/><circle cx="30.4" cy="12.1" r="10.2" stroke="#d1404f" stroke-width="1.6"/><g clip-path="url(#fl)"><rect x="22" y="4" width="17" height="17" fill="#ffffff"/><rect x="22" y="4" width="17" height="2.2" fill="#f08a84"/><rect x="22" y="8.6" width="17" height="2.3" fill="#ef5350"/><rect x="22" y="15.8" width="17" height="2.2" fill="#f08a84"/><rect x="22" y="18" width="17" height="2.4" fill="#ef5350"/><rect x="22" y="4" width="9.9" height="9.6" fill="#2a7de1"/><rect x="23.6" y="5.6" width="1.5" height="1.4" fill="#cfe6ff"/><rect x="23.6" y="8.5" width="1.5" height="1.4" fill="#cfe6ff"/><rect x="23.6" y="11.4" width="1.5" height="1.4" fill="#cfe6ff"/><rect x="26.6" y="5.6" width="1.5" height="1.4" fill="#cfe6ff"/><rect x="26.6" y="8.5" width="1.5" height="1.4" fill="#cfe6ff"/><rect x="26.6" y="11.4" width="1.5" height="1.4" fill="#cfe6ff"/><rect x="29.6" y="5.6" width="1.5" height="1.4" fill="#cfe6ff"/><rect x="29.6" y="8.5" width="1.5" height="1.4" fill="#cfe6ff"/><rect x="29.6" y="11.4" width="1.5" height="1.4" fill="#cfe6ff"/></g><circle cx="19.1" cy="5.3" r="2.5" fill="#f23645"/></svg>
<div class="abs" style="left:2px;top:850.5px;width:1194px;height:1px;background:#2a2e39"></div>
<span class="t" style="left:14.8px;top:862.3px;height:18px;line-height:18px;font-size:14px;color:#c9ccd4;letter-spacing:-0.998px;-webkit-text-stroke:0.35px #c9ccd4;">1D</span>
<span class="t" style="left:43.2px;top:862.3px;height:18px;line-height:18px;font-size:14px;color:#c9ccd4;letter-spacing:-0.998px;-webkit-text-stroke:0.35px #c9ccd4;">5D</span>
<span class="t" style="left:71.0px;top:862.3px;height:18px;line-height:18px;font-size:14px;color:#c9ccd4;letter-spacing:-0.874px;-webkit-text-stroke:0.35px #c9ccd4;">1M</span>
<span class="t" style="left:100.3px;top:862.3px;height:18px;line-height:18px;font-size:14px;color:#c9ccd4;letter-spacing:-0.874px;-webkit-text-stroke:0.35px #c9ccd4;">3M</span>
<span class="t" style="left:129.3px;top:862.3px;height:18px;line-height:18px;font-size:14px;color:#c9ccd4;letter-spacing:-0.874px;-webkit-text-stroke:0.35px #c9ccd4;">6M</span>
<span class="t" style="left:158.6px;top:862.3px;height:18px;line-height:18px;font-size:14px;color:#c9ccd4;letter-spacing:-1.100px;-webkit-text-stroke:0.35px #c9ccd4;">YTD</span>
<span class="t" style="left:195.6px;top:862.3px;height:18px;line-height:18px;font-size:14px;color:#c9ccd4;letter-spacing:-1.212px;-webkit-text-stroke:0.35px #c9ccd4;">1Y</span>
<span class="t" style="left:223.1px;top:862.3px;height:18px;line-height:18px;font-size:14px;color:#c9ccd4;letter-spacing:-1.412px;-webkit-text-stroke:0.35px #c9ccd4;">5Y</span>
<span class="t" style="left:249.6px;top:862.3px;height:18px;line-height:18px;font-size:14px;color:#c9ccd4;letter-spacing:0.480px;-webkit-text-stroke:0.35px #c9ccd4;">All</span>
<div class="abs" style="left:277px;top:859.6px;width:1px;height:22px;background:#363a45"></div>
<svg class="abs" style="left:290px;top:860px;" width="22" height="20" viewBox="0 0 22 20" fill="none"><path d="M3.4 8.5 V5 Q3.4 3.4 5 3.4 H16.8 Q18.4 3.4 18.4 5 V16.2 Q18.4 17.8 16.8 17.8 H12 M3.4 7.6 H18.4 M7 1.4 V5 M14.8 1.4 V5" stroke="#d1d4dc" stroke-width="1.1"/><path d="M1 13.8 H9.4 M6.4 10.6 L9.6 13.8 L6.4 17" stroke="#d1d4dc" stroke-width="1.1"/></svg>
<span class="t" style="left:1078.0px;top:862.2px;height:18px;line-height:18px;font-size:14px;color:#d1d4dc;letter-spacing:-0.152px;-webkit-text-stroke:0.35px #d1d4dc;">04:17:10 (UTC-4)</span>
<div class="abs" style="left:0;top:889.5px;width:1196px;height:14px;background:#2a2e39"></div>
<div class="abs" style="left:1.3px;top:894.3px;width:1193.5px;height:12px;background:#131722;border-radius:4px 4px 0 0"></div>
<div class="abs" style="left:1194.8px;top:36px;width:1.2px;height:867px;background:#2a2e39"></div>
</body></html>
